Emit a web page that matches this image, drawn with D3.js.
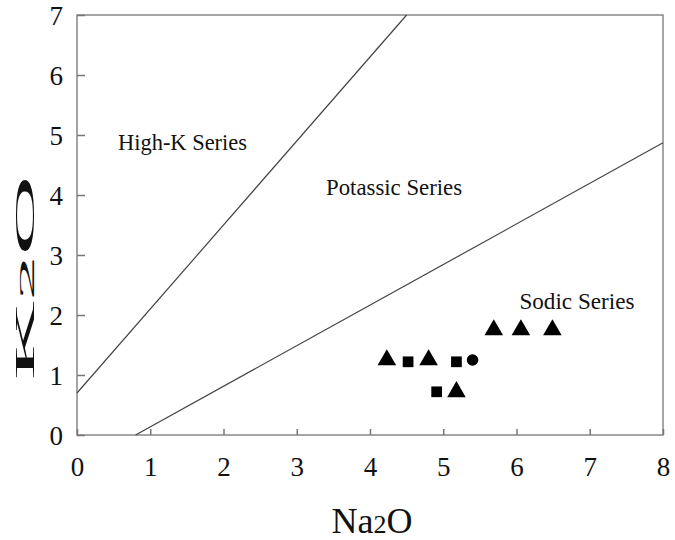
<!DOCTYPE html>
<html>
<head>
<meta charset="utf-8">
<script src="https://cdn.jsdelivr.net/npm/d3@7"></script>
<style>
  body { margin: 0; background: #fff; }
  svg text { font-family: "Times New Roman", "Liberation Serif", "DejaVu Serif", serif !important; fill: #111; }
</style>
</head>
<body>
<svg id="chart"></svg>
<script>
//define constants
const svgWidth = 675;
const svgHeight = 540;
const plotLeft = 77, plotRight = 663, plotTop = 15, plotBottom = 435;
const serif = '"Times New Roman", "Liberation Serif", "DejaVu Serif", serif';

//axis ticks
const xTicks = [0, 1, 2, 3, 4, 5, 6, 7, 8];
const yTicks = [0, 1, 2, 3, 4, 5, 6, 7];

//sample points (Na2O, K2O)
const triangleNa = [4.23, 4.80, 5.18, 5.69, 6.06, 6.49];
const triangleK  = [1.25, 1.25, 0.72, 1.75, 1.75, 1.75];
const squareNa = [4.52, 5.18, 4.91];
const squareK  = [1.22, 1.22, 0.72];
const circleNa = [5.40];
const circleK  = [1.25];

//boundary lines, endpoints [Na2O, K2O]
const highKLine = [[0, 0.7], [4.5, 7]];
const sodicLine = [[0.8, 0], [8, 4.87]];

//field labels
const fieldNames = ['High-K Series', 'Potassic Series', 'Sodic Series'];
const fieldNa = [0.56, 3.4, 6.04];
const fieldK  = [4.75, 4.0, 2.1];
const fieldWidth = [129, 136, 115];

var svg = d3.select('#chart')
	.attr('width', svgWidth)
	.attr('height', svgHeight)
	.style('font-family', serif);

var xScale = d3.scaleLinear().domain([0, 8]).range([plotLeft, plotRight]);
var yScale = d3.scaleLinear().domain([0, 7]).range([plotBottom, plotTop]);

//frame
svg.append('rect')
	.attr('x', plotLeft).attr('y', plotTop)
	.attr('width', plotRight - plotLeft).attr('height', plotBottom - plotTop)
	.attr('fill', 'none').attr('stroke', '#888').attr('stroke-width', 1.5);

//axes with inward ticks
var xAxis = svg.append('g')
	.attr('transform', `translate(0, ${plotBottom})`)
	.call(d3.axisBottom(xScale).tickValues(xTicks).tickSize(-6).tickPadding(22).tickFormat(d3.format('d')));
var yAxis = svg.append('g')
	.attr('transform', `translate(${plotLeft}, 0)`)
	.call(d3.axisLeft(yScale).tickValues(yTicks).tickSize(-8).tickPadding(14).tickFormat(d3.format('d')));
[xAxis, yAxis].forEach(a => {
	a.attr('font-family', null);
	a.select('.domain').remove();
	a.selectAll('line').attr('stroke', '#777').attr('stroke-width', 1.5);
	a.selectAll('text').attr('font-size', 27).style('font-family', serif).attr('fill', '#111');
});
yAxis.selectAll('text').attr('dy', '0.34em');

//boundary lines
var line = d3.line().x(d => xScale(d[0])).y(d => yScale(d[1]));
[highKLine, sodicLine].forEach(l => {
	svg.append('path')
		.attr('d', line(l))
		.attr('fill', 'none')
		.attr('stroke', '#444')
		.attr('stroke-width', 1.2);
});

//field labels
svg.selectAll('.field')
	.data(fieldNames)
	.enter()
	.append('text')
		.classed('field', true)
		.attr('x', (d, i) => xScale(fieldNa[i]))
		.attr('y', (d, i) => yScale(fieldK[i]))
		.attr('font-size', 23)
		.attr('textLength', (d, i) => fieldWidth[i])
		.attr('lengthAdjust', 'spacingAndGlyphs')
		.style('font-family', serif)
		.text(d => d);

//markers
var triData = triangleNa.map((v, i) => [v, triangleK[i]]);
var sqData = squareNa.map((v, i) => [v, squareK[i]]);
var cirData = circleNa.map((v, i) => [v, circleK[i]]);

svg.selectAll('.tri')
	.data(triData)
	.enter()
	.append('path')
		.attr('d', d3.symbol().type(d3.symbolTriangle).size(150))
		.attr('transform', d => `translate(${xScale(d[0])}, ${yScale(d[1])})`)
		.attr('fill', '#000');
svg.selectAll('.sq')
	.data(sqData)
	.enter()
	.append('path')
		.attr('d', d3.symbol().type(d3.symbolSquare).size(115))
		.attr('transform', d => `translate(${xScale(d[0])}, ${yScale(d[1])})`)
		.attr('fill', '#000');
svg.selectAll('.cir')
	.data(cirData)
	.enter()
	.append('path')
		.attr('d', d3.symbol().type(d3.symbolCircle).size(105))
		.attr('transform', d => `translate(${xScale(d[0])}, ${yScale(d[1])})`)
		.attr('fill', '#000');

//axis titles
var xTitle = svg.append('text')
	.attr('x', (plotLeft + plotRight) / 2 + 2)
	.attr('y', 533)
	.attr('text-anchor', 'middle')
	.attr('font-size', 36)
	.style('font-family', serif);
xTitle.append('tspan').text('Na');
xTitle.append('tspan').attr('font-size', 26).text('2');
xTitle.append('tspan').text('O');

var yTitle = svg.append('text')
	.attr('transform', `translate(34, ${(plotTop + plotBottom) / 2 + 53}) rotate(-90)`)
	.attr('text-anchor', 'middle')
	.attr('font-size', 27)
	.attr('textLength', 205)
	.attr('lengthAdjust', 'spacingAndGlyphs')
	.style('font-family', serif);
yTitle.append('tspan').text('K');
yTitle.append('tspan').attr('font-size', 22).text('2');
yTitle.append('tspan').text('O');
</script>
</body>
</html>
